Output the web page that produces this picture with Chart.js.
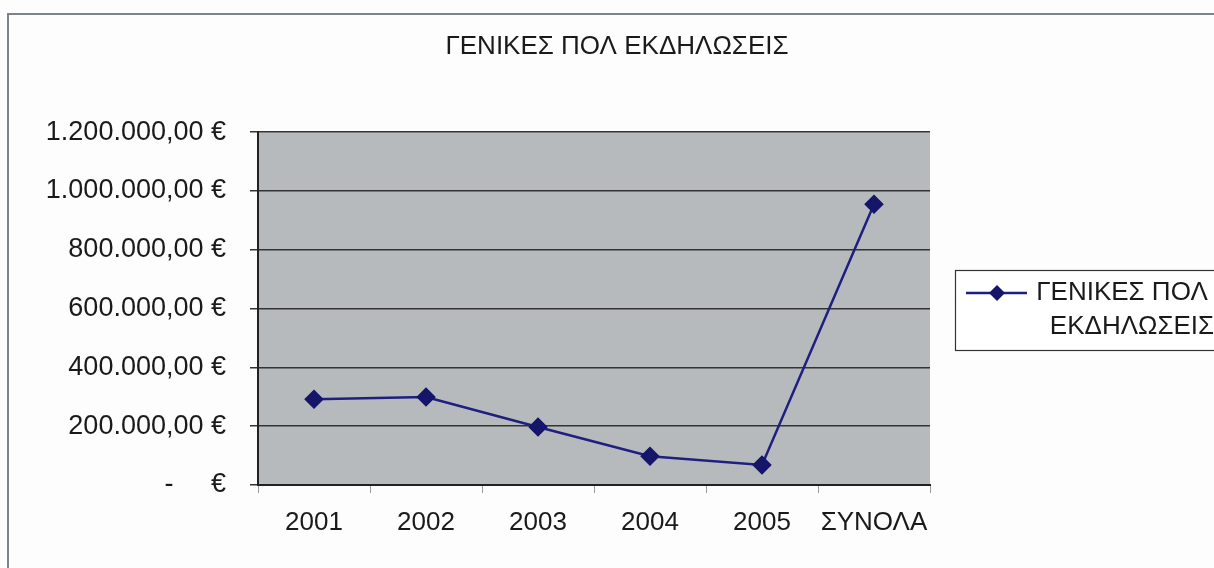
<!DOCTYPE html>
<html>
<head>
<meta charset="utf-8">
<script src="https://cdn.jsdelivr.net/npm/chart.js@4.4.1/dist/chart.umd.min.js"></script>
<style>
  html, body { margin: 0; padding: 0; background: #fdfdfd; }
  #wrap { width: 1214px; height: 568px; position: relative; }
</style>
</head>
<body>
<div id="wrap"><canvas id="chart" width="1214" height="568"></canvas></div>
<script>
// chart data
const titleText = 'ΓΕΝΙΚΕΣ ΠΟΛ ΕΚΔΗΛΩΣΕΙΣ';
const categories = ['2001', '2002', '2003', '2004', '2005', 'ΣΥΝΟΛΑ'];
const values = [292000, 299000, 197000, 98000, 68000, 955000];
const legendLines = ['ΓΕΝΙΚΕΣ ΠΟΛ', 'ΕΚΔΗΛΩΣΕΙΣ'];
const yMax = 1200000;
const yStep = 200000;

const lineColor = '#1f1f80';
const markerColor = '#15156a';
const fontFamily = '"Liberation Sans", Arial, sans-serif';

// format 1200000 -> "1.200.000,00 €", 0 -> "-     €"
function euro(v) {
    if (v === 0) return '-     €';
    const s = Math.round(v).toString().replace(/\B(?=(\d{3})+(?!\d))/g, '.');
    return s + ',00 €';
}

// gray plot background and the outer frame
const backgroundPlugin = {
    id: 'background',
    beforeDraw(chart) {
        const ctx = chart.ctx;
        const a = chart.chartArea;
        ctx.save();
        ctx.fillStyle = '#b6babd';
        ctx.fillRect(a.left, a.top, a.right - a.left, a.bottom - a.top);
        ctx.strokeStyle = '#7d838a';
        ctx.lineWidth = 2;
        ctx.beginPath();
        ctx.moveTo(8, 568);
        ctx.lineTo(8, 14);
        ctx.lineTo(1214, 14);
        ctx.stroke();
        ctx.restore();
    }
};

// legend box with two text lines
const legendPlugin = {
    id: 'boxLegend',
    afterDraw(chart) {
        const ctx = chart.ctx;
        const ds = chart.data.datasets[0];
        ctx.save();
        ctx.fillStyle = '#ffffff';
        ctx.fillRect(955, 270, 270, 80);
        ctx.strokeStyle = '#333333';
        ctx.lineWidth = 1.2;
        ctx.strokeRect(955.5, 270.5, 270, 80);

        ctx.strokeStyle = ds.borderColor;
        ctx.lineWidth = 2.5;
        ctx.beginPath();
        ctx.moveTo(966, 293);
        ctx.lineTo(1027, 293);
        ctx.stroke();

        ctx.fillStyle = ds.pointBackgroundColor;
        ctx.beginPath();
        ctx.moveTo(997, 285);
        ctx.lineTo(1005, 293);
        ctx.lineTo(997, 301);
        ctx.lineTo(989, 293);
        ctx.closePath();
        ctx.fill();

        ctx.fillStyle = '#1a1a1a';
        ctx.font = '26px ' + fontFamily;
        ctx.textAlign = 'center';
        ctx.textBaseline = 'middle';
        ctx.fillText(legendLines[0], 1122, 293);
        ctx.fillText(legendLines[1], 1132, 327);
        ctx.restore();
    }
};

new Chart(document.getElementById('chart'), {
    type: 'line',
    data: {
        labels: categories,
        datasets: [{
            label: legendLines.join(' '),
            data: values,
            borderColor: lineColor,
            borderWidth: 2.5,
            pointStyle: 'rectRot',
            pointRadius: 8,
            pointHoverRadius: 8,
            pointBackgroundColor: markerColor,
            pointBorderColor: markerColor,
            tension: 0,
            fill: false
        }]
    },
    options: {
        responsive: false,
        animation: false,
        layout: { padding: { left: 20, right: 0, top: 0, bottom: 0 } },
        plugins: {
            legend: { display: false },
            tooltip: { enabled: false },
            title: {
                display: true,
                text: titleText,
                color: '#1a1a1a',
                font: { family: fontFamily, size: 26, weight: 'normal' },
                padding: { top: 31, bottom: 70 }
            }
        },
        scales: {
            x: {
                offset: true,
                grid: {
                    offset: true,
                    drawOnChartArea: false,
                    color: '#333333',
                    tickLength: 8,
                    tickColor: '#999999'
                },
                border: { color: '#222222', width: 2 },
                ticks: {
                    color: '#1a1a1a',
                    padding: 14,
                    autoSkip: false,
                    maxRotation: 0,
                    minRotation: 0,
                    font: { family: fontFamily, size: 26 }
                },
                afterFit(scale) { scale.height = 83; }
            },
            y: {
                min: 0,
                max: yMax,
                grid: {
                    color: '#333333',
                    lineWidth: 1.5,
                    tickLength: 8
                },
                border: { color: '#222222', width: 2 },
                ticks: {
                    stepSize: yStep,
                    color: '#1a1a1a',
                    padding: 24,
                    font: { family: fontFamily, size: 27 },
                    callback: v => euro(v)
                },
                afterFit(scale) { scale.width = 238; }
            },
            // empty right-hand scale that only reserves room for the legend
            side: {
                position: 'right',
                display: true,
                grid: { display: false },
                border: { display: false },
                ticks: { display: false },
                afterFit(scale) { scale.width = 284; }
            }
        }
    },
    plugins: [backgroundPlugin, legendPlugin]
});
</script>
</body>
</html>
